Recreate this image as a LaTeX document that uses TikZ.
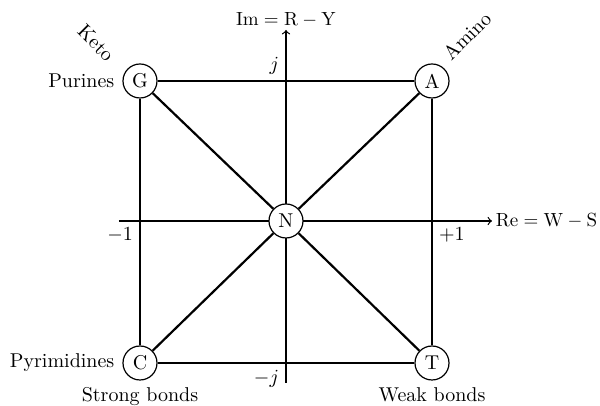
\documentclass[tikz,border=0pt]{standalone}
\usetikzlibrary{positioning}
\tikzset{>=to}
\tikzstyle{base}=[circle,draw,line width=0.6pt,fill=white,minimum size=17pt,inner sep=0pt]
\tikzstyle{edge}=[line width=0.6pt]
\tikzstyle{diag}=[line width=1.1pt]

\begin{document}
\begin{tikzpicture}[x=0.5pt,y=0.5pt]
  \def\xr{146}  % half width of square
  \def\yt{140}  % top row
  \def\yb{-142} % bottom row
  \useasboundingbox (-286,-185) rectangle (314,221);
  
  % AXIS
  \coordinate (xmin) at (-167,0);
  \coordinate (xmax) at (206,0);
  \coordinate (ymin) at (0,-162);
  \coordinate (ymax) at (0,191);
  \draw[edge,->] (xmin) -- (xmax)
    node[right=-1.5pt,scale=0.95] (re) {$\mathrm{Re}=\mathrm{W}-\mathrm{S}$};
  \draw[edge,->] (ymin) -- (ymax)
    node[above=-2pt,scale=0.95] (im) {$\mathrm{Im}=\mathrm{R}-\mathrm{Y}$};
  
  % BASES
  \node[base] (N) at (0,0) {N};
  \node[base] (G) at (-\xr,\yt) {G};
  \node[base] (A) at (\xr,\yt) {A};
  \node[base] (C) at (-\xr,\yb) {C};
  \node[base] (T) at (\xr,\yb) {T};
  \draw[edge] (G) -- (A) -- (T) -- (C) -- (G);
  \draw[diag] (G) -- (N) -- (T);
  \draw[diag] (A) -- (N) -- (C);
  
  % LABELS
  \node[above left] (jp) at (0,\yt) {$j$};
  \node[below left] (jm) at (0,\yb) {$-j$};
  \node[below left] (m1) at (-\xr,0) {$-1$};
  \node[below right] (p1) at (\xr,0) {$+1$};
  \node[left=0.5pt of G] (pur) {Purines};
  \node[left=0.5pt of C] (pyr) {Pyrimidines};
  \node[below=0pt of C] (strong) {Strong bonds};
  \node[below=0pt of T] (weak) {Weak bonds};
  \node[rotate=-45] (keto) at (-190,178) {Keto};
  \node[rotate=45] (amino) at (181,185) {Amino};
  
\end{tikzpicture}
\end{document}
